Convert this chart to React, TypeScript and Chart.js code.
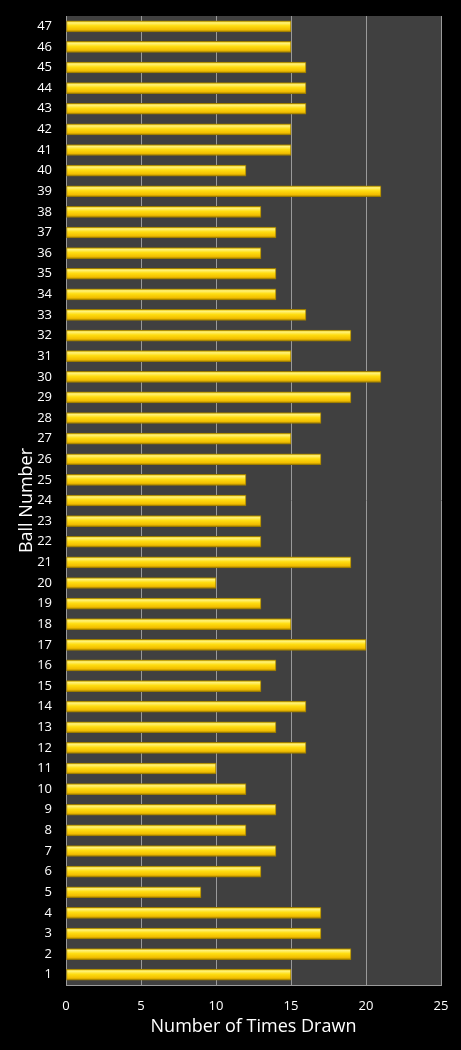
import React, { useEffect, useRef } from "react";
import { Chart, registerables } from "chart.js";

Chart.register(...registerables);

const ballNumbers: string[] = [
  "1","2","3","4","5","6","7","8","9","10","11","12","13","14","15","16",
  "17","18","19","20","21","22","23","24","25","26","27","28","29","30","31","32",
  "33","34","35","36","37","38","39","40","41","42","43","44","45","46","47",
];

const timesDrawn: number[] = [
  15, 19, 17, 17, 9, 13, 14, 12, 14, 12, 10, 16, 14, 16, 13, 14,
  20, 15, 13, 10, 19, 13, 13, 12, 12, 17, 15, 17, 19, 21, 15, 19,
  16, 14, 14, 13, 14, 13, 21, 12, 15, 15, 16, 16, 16, 15, 15,
];

const xTitle = "Number of Times Drawn";
const yTitle = "Ball Number";

const FONT = "'Open Sans', 'DejaVu Sans', sans-serif";

const plotBg = {
  id: "plotBg",
  beforeDraw(chart: any) {
    const { ctx, chartArea } = chart;
    if (!chartArea) return;
    ctx.save();
    ctx.fillStyle = "#404040";
    ctx.fillRect(chartArea.left, chartArea.top, chartArea.right - chartArea.left, chartArea.bottom - chartArea.top);
    ctx.restore();
  },
};

const BAR_T = 11;

function barFill(context: any) {
  const chart = context.chart;
  const yScale = chart.scales?.y;
  if (!yScale || !chart.chartArea || context.dataIndex === undefined) return "#FFD400";
  const yc = yScale.getPixelForValue(context.dataIndex);
  if (!isFinite(yc)) return "#FFD400";
  const g = chart.ctx.createLinearGradient(0, yc - BAR_T / 2, 0, yc + BAR_T / 2);
  g.addColorStop(0, "#E8C200");
  g.addColorStop(0.18, "#FFF27A");
  g.addColorStop(0.45, "#FFDD10");
  g.addColorStop(0.8, "#F2BE00");
  g.addColorStop(1, "#A88400");
  return g;
}

export default function App() {
  const ref = useRef<HTMLCanvasElement | null>(null);

  useEffect(() => {
    document.body.style.margin = "0";
    document.body.style.background = "#000";
    const canvas = ref.current;
    if (!canvas) return;
    const chart = new Chart(canvas, {
      type: "bar",
      data: {
        labels: ballNumbers,
        datasets: [
          {
            data: timesDrawn,
            backgroundColor: barFill as any,
            borderColor: "#9C7C00",
            borderWidth: 1,
            barThickness: BAR_T,
            borderSkipped: false,
          },
        ],
      },
      options: {
        indexAxis: "y",
        responsive: false,
        animation: false,
        devicePixelRatio: 1,
        layout: { padding: { top: 16, right: 20, left: 0, bottom: 0 } },
        plugins: {
          legend: { display: false },
          tooltip: { enabled: false },
        },
        scales: {
          x: {
            type: "linear",
            min: 0,
            max: 25,
            ticks: {
              stepSize: 5,
              color: "#FFFFFF",
              padding: 13,
              font: { family: FONT, size: 13 },
            },
            grid: {
              display: true,
              color: "#9A9A9A",
              lineWidth: 1,
              drawTicks: false,
            },
            border: { display: true, color: "#9A9A9A" },
            title: {
              display: true,
              text: xTitle,
              color: "#FFFFFF",
              font: { family: FONT, size: 18 },
              padding: { top: 0, bottom: 12 },
            },
            afterFit(scale: any) {
              scale.height = 65;
              scale.paddingLeft = 0;
              scale.paddingRight = 0;
            },
          },
          y: {
            type: "category",
            reverse: true,
            ticks: {
              color: "#FFFFFF",
              padding: 14,
              autoSkip: false,
              font: { family: FONT, size: 13 },
            },
            grid: { display: false, drawTicks: false },
            border: { display: true, color: "#9A9A9A" },
            title: {
              display: true,
              text: yTitle,
              color: "#FFFFFF",
              font: { family: FONT, size: 18 },
              padding: { top: 16, bottom: 0 },
            },
            afterFit(scale: any) {
              scale.width = 66;
              scale.paddingTop = 0;
              scale.paddingBottom = 0;
            },
          },
        },
      },
      plugins: [plotBg],
    });
    return () => chart.destroy();
  }, []);

  return (
    <div style={{ position: "absolute", left: 0, top: 0, width: 461, height: 1050, background: "#000" }}>
      <canvas ref={ref} width={461} height={1050} style={{ display: "block" }} />
    </div>
  );
}
